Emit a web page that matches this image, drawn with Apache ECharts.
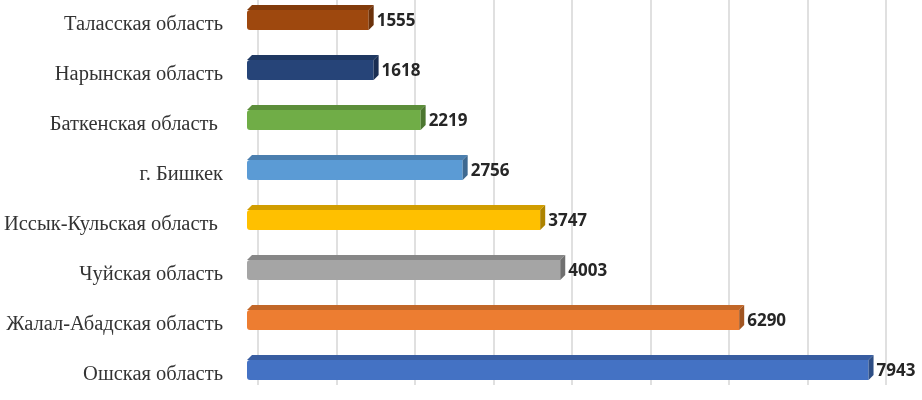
<!DOCTYPE html>
<html>
<head>
<meta charset="utf-8">
<script src="https://cdn.jsdelivr.net/npm/echarts@6/dist/echarts.min.js"></script>
<style>
  html, body { margin: 0; background: #fff; }
  #chart { width: 922px; height: 400px; }
</style>
</head>
<body>
<div id="chart"></div>
<script>
// bottom to top, as the category axis draws them
const regions = [
  'Ошская область',
  'Жалал-Абадская область',
  'Чуйская область',
  'Иссык-Кульская область ',
  'г. Бишкек',
  'Баткенская область ',
  'Нарынская область',
  'Таласская область'
]
const values = [7943, 6290, 4003, 3747, 2756, 2219, 1618, 1555]
const barColors = ['#4472C4', '#ED7D31', '#A5A5A5', '#FFC000', '#5B9BD5', '#70AD47', '#264478', '#9E480E']
const xMax = 8000
const xStep = 1000

const chart = echarts.init(document.getElementById('chart'))

// darken a hex colour by multiplying its channels
const shade = (hex, f) => {
  const n = parseInt(hex.slice(1), 16)
  const r = Math.round(((n >> 16) & 255) * f)
  const g = Math.round(((n >> 8) & 255) * f)
  const b = Math.round((n & 255) * f)
  return `rgb(${r},${g},${b})`
}

const renderBar = (params, api) => {
  const v = api.value(0)
  const i = api.value(1)
  const start = api.coord([0, i])
  const end = api.coord([v, i])
  const band = api.size([0, 1])[1]
  const h = band * 0.4
  const d = 5
  const yT = start[1] - band * 0.1 - h / 2
  const yB = yT + h
  const x0 = start[0]
  const x1 = end[0]
  const color = barColors[params.dataIndex]
  return {
    type: 'group',
    children: [
      {
        type: 'polygon',
        shape: { points: [[x0, yT], [x0 + d, yT - d], [x1 + d, yT - d], [x1, yT]] },
        style: { fill: shade(color, 0.82) }
      },
      {
        type: 'rect',
        shape: { x: x0, y: yT, width: x1 - x0, height: h, r: [3, 0, 0, 3] },
        style: { fill: color }
      },
      {
        type: 'polygon',
        shape: { points: [[x1, yT], [x1 + d, yT - d], [x1 + d, yB - d], [x1, yB]] },
        style: { fill: shade(color, 0.68) }
      },
      {
        type: 'text',
        style: {
          text: String(v),
          x: x1 + d + 3,
          y: (yT + yB) / 2 + 1,
          verticalAlign: 'middle',
          font: 'bold 17px "Open Sans"',
          fill: '#262626'
        }
      }
    ]
  }
}

chart.setOption({
  animation: false,
  grid: [
    { left: 247, right: 49, top: 0, bottom: -5 },
    { left: 258, right: 36, top: 0, bottom: 15 }
  ],
  xAxis: [
    { gridIndex: 0, type: 'value', min: 0, max: xMax, interval: xStep, show: false },
    {
      gridIndex: 1,
      type: 'value',
      min: 0,
      max: xMax,
      interval: xStep,
      axisLine: { show: false },
      axisTick: { show: false },
      axisLabel: { show: false },
      splitLine: { lineStyle: { color: '#d6d6d6', width: 1.5 } }
    }
  ],
  yAxis: [
    {
      gridIndex: 0,
      type: 'category',
      data: regions,
      axisLine: { show: false },
      axisTick: { show: false },
      axisLabel: {
        margin: 24,
        fontFamily: 'Liberation Serif',
        fontSize: 20.5,
        color: '#333'
      }
    },
    { gridIndex: 1, type: 'value', show: false }
  ],
  series: [
    {
      type: 'custom',
      xAxisIndex: 0,
      yAxisIndex: 0,
      renderItem: renderBar,
      encode: { x: 0, y: 1 },
      data: values.map((v, i) => [v, i])
    }
  ]
})
</script>
</body>
</html>
